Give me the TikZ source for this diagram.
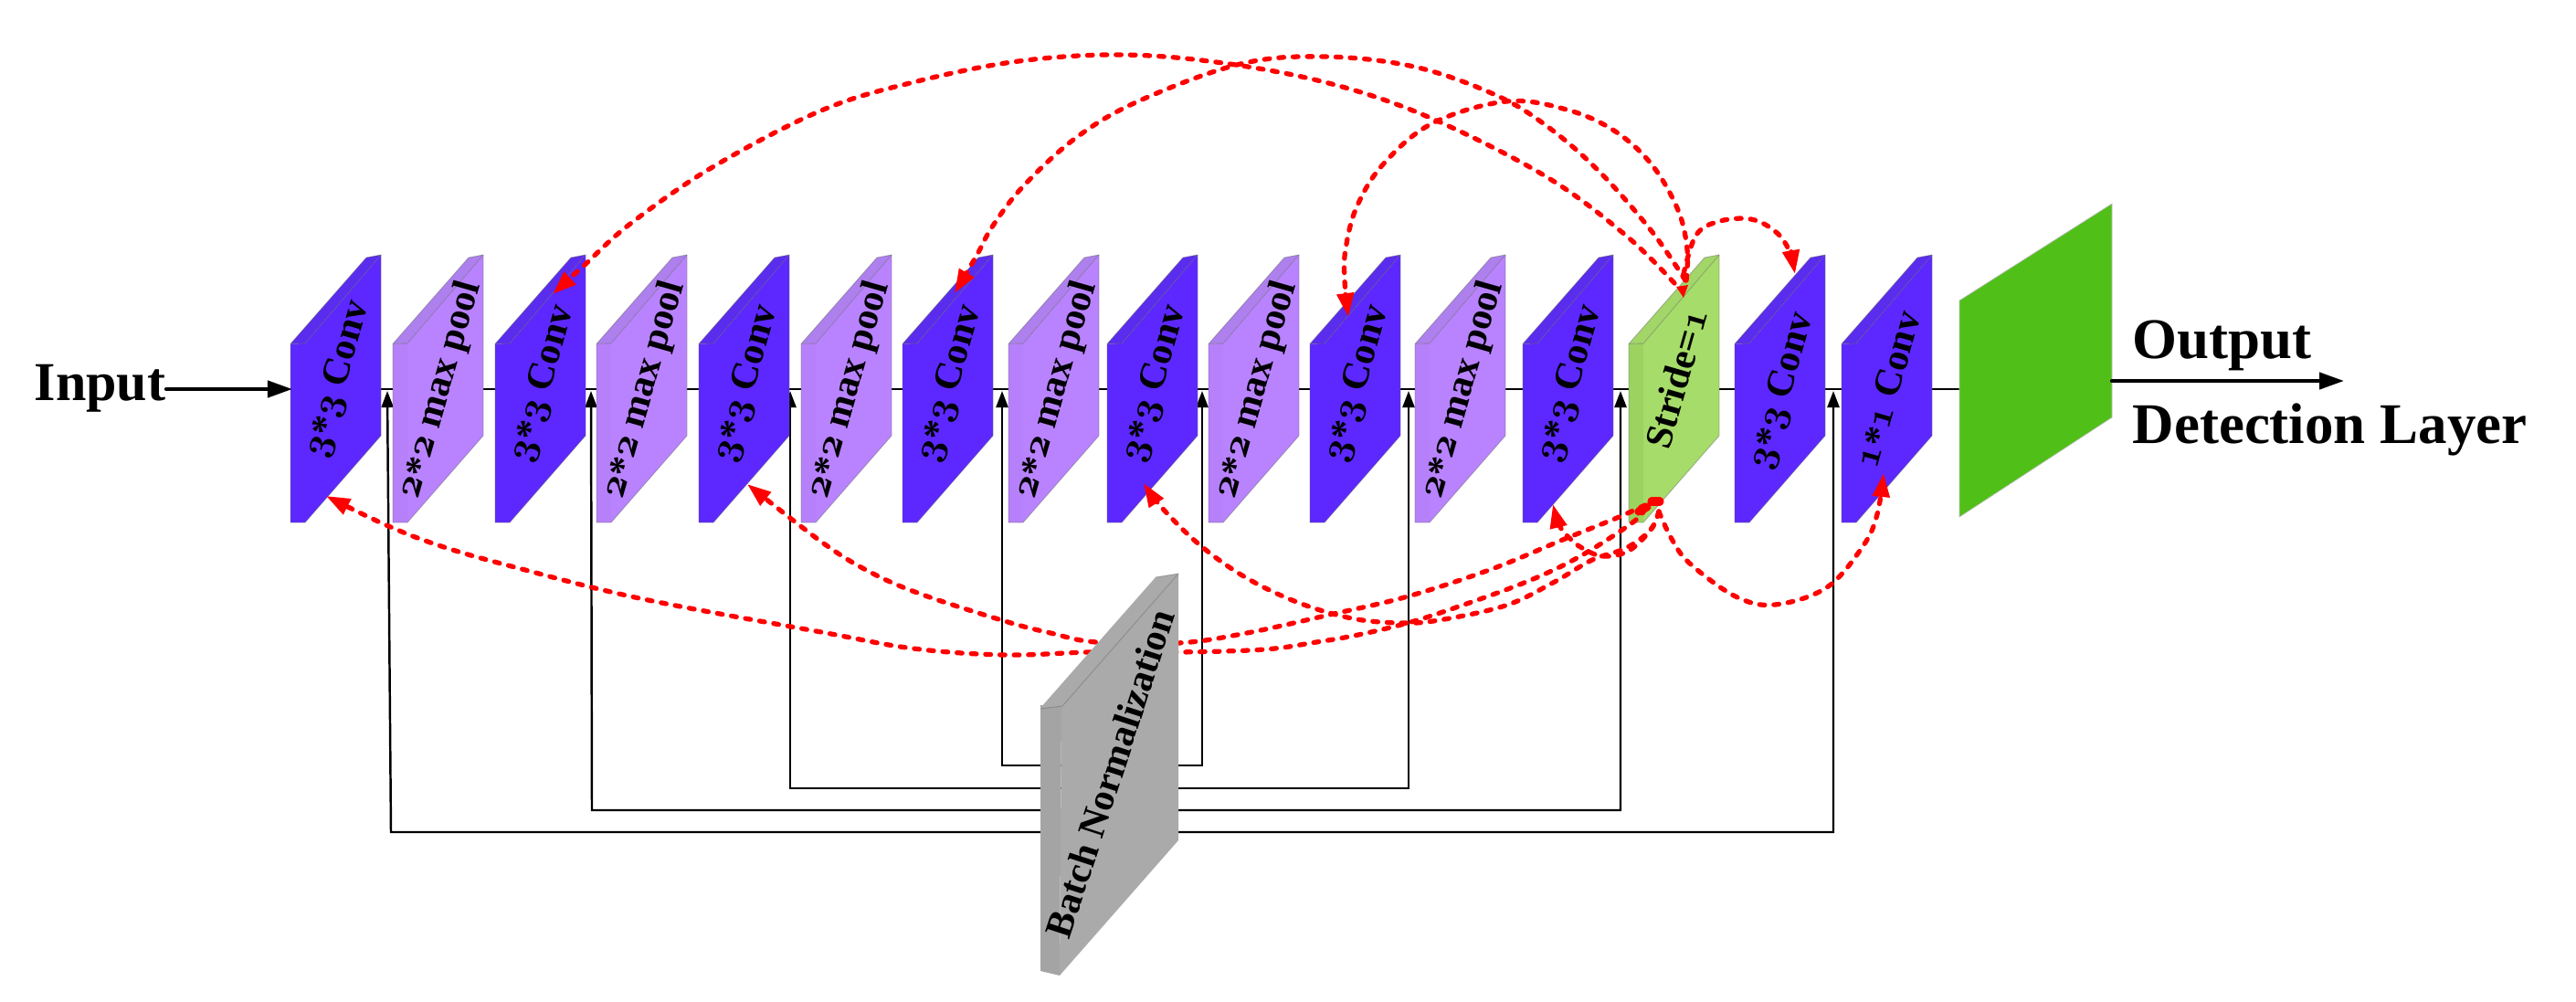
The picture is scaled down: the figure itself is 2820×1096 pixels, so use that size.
\documentclass[tikz,border=0pt]{standalone}
\usepackage{fontspec}
\setmainfont{Liberation Serif}
\usetikzlibrary{arrows.meta}
\definecolor{conv}{HTML}{5C28FF}
\definecolor{convtop}{HTML}{5A2CEE}
\definecolor{pool}{HTML}{B983FF}
\definecolor{poolside}{HTML}{B680FB}
\definecolor{pooltop}{HTML}{AE80EE}
\definecolor{strd}{HTML}{A6DC69}
\definecolor{strdside}{HTML}{9CD260}
\definecolor{strdtop}{HTML}{A2D668}
\definecolor{bnfront}{HTML}{AAAAAA}
\definecolor{bnside}{HTML}{A4A4A4}
\definecolor{outgreen}{HTML}{50C018}
\newcommand\od[1]{{\fontsize{13}{14}\usefont{OML}{cmm}{b}{it}#1}}
\newcommand\st{\raisebox{-.12em}{*}}
\newcommand\thrconv{\od{3}\st\od{3} Conv}
\newcommand\twopool{\od{2}\st\od{2} max pool}
\tikzset{
  x=.01cm,y=-.01cm,
  blocktext/.style={font=\fontsize{11.95}{14}\selectfont\bfseries,rotate=74,inner sep=0pt},
  biglabel/.style={font=\fontsize{17.9}{20}\selectfont\bfseries,anchor=base west,inner sep=0pt},
  thinblack/.style={draw=black,line width=.7pt},
  iolink/.style={draw=black,line width=1.2pt,line cap=round,-{Triangle[length=.27cm,width=.18cm]}},
  redlink/.style={draw=red,line width=1.5pt,line cap=round,dash pattern=on 1.6pt off 2.85pt,-{Triangle[length=.26cm,width=.18cm]}},
  edgeline/.style={draw=black!60,draw opacity=.45,line width=.25pt},
  blob/.style={draw=red,line width=2.6pt,line cap=round},
}
% name, x, front, side, top, text centre y, text
\newcommand\lay[7]{%
  \begin{scope}[shift={(#2,0)}]
    \path[fill=#3] (16,376) -- (99,279) -- (99,477) -- (16,572) -- cycle;
    \path[fill=#4] (0,376.5) -- (16,376) -- (16,572) -- (0,572) -- cycle;
    \path[fill=#5] (0,376.5) -- (83,282) -- (99,279) -- (16,376) -- cycle;
    \path[edgeline] (0,376.5) -- (83,282) -- (99,279) -- (99,477) -- (16,572) -- (0,572) -- cycle;
    \path[edgeline] (0,376.5) -- (16,376) -- (99,279);
    \node[blocktext] (#1) at (52,#6) {#7};
  \end{scope}}
\begin{document}
\begin{tikzpicture}
\useasboundingbox (0,0) rectangle (2820,1096);
\coordinate (inS) at (182,426);
\coordinate (inT) at (320,426);
\coordinate (mainS) at (320,426);
\coordinate (mainT) at (2146,426);
\draw[thinblack] (mainS) -- (mainT);
% skip connections
\coordinate (a1) at (424,428); \coordinate (a2) at (2007,428); \coordinate (busa) at (428,911);
\coordinate (b1) at (647,428); \coordinate (b2) at (1774,428); \coordinate (busb) at (648,887);
\coordinate (c1) at (865,428); \coordinate (c2) at (1542,428); \coordinate (busc) at (865,863);
\coordinate (d1) at (1097,428); \coordinate (d2) at (1316,428); \coordinate (busd) at (1097,838);
\foreach \p/\q/\r in {a1/a2/busa,b1/b2/busb,c1/c2/busc,d1/d2/busd}{
  \draw[thinblack,{Triangle[length=.18cm,width=.13cm]}-{Triangle[length=.18cm,width=.13cm]}]
    (\p) -- (\r) -- (\q |- \r) -- (\q);
}
\lay{l1}{318}{conv}{conv}{convtop}{415}{\thrconv}
\lay{l2}{430}{pool}{poolside}{pooltop}{427}{\twopool}
\lay{l3}{542}{conv}{conv}{convtop}{420}{\thrconv}
\lay{l4}{653}{pool}{poolside}{pooltop}{427}{\twopool}
\lay{l5}{765}{conv}{conv}{convtop}{420}{\thrconv}
\lay{l6}{877}{pool}{poolside}{pooltop}{427}{\twopool}
\lay{l7}{988}{conv}{conv}{convtop}{420}{\thrconv}
\lay{l8}{1104}{pool}{poolside}{pooltop}{427}{\twopool}
\lay{l9}{1212}{conv}{conv}{convtop}{420}{\thrconv}
\lay{l10}{1323}{pool}{poolside}{pooltop}{427}{\twopool}
\lay{l11}{1434}{conv}{conv}{convtop}{420}{\thrconv}
\lay{l12}{1549}{pool}{poolside}{pooltop}{427}{\twopool}
\lay{l13}{1667}{conv}{conv}{convtop}{420}{\thrconv}
\lay{l14}{1783}{strd}{strdside}{strdtop}{414}{Stride=\od{1}}
\lay{l15}{1899}{conv}{conv}{convtop}{428}{\thrconv}
\lay{l16}{2016}{conv}{conv}{convtop}{427}{\od{1}\st\od{1} Conv}
% output layer
\path[fill=outgreen,draw=black!25,line width=.2pt] (2145,329) -- (2312,223) -- (2312,457) -- (2145,566) -- cycle;
\coordinate (outS) at (2312,417);
\coordinate (outT) at (2566,417);
\draw[iolink] (inS) -- (inT);
\draw[iolink] (outS) -- (outT);
\node[biglabel,font=\fontsize{17.07}{20}\selectfont\bfseries] (inlabel) at (37,438) {Input};
\node[biglabel] (outlabel) at (2334,392) {Output};
\node[biglabel] (detlabel) at (2334,485) {Detection Layer};
% red curves, upper
\coordinate (topA) at (1833,310);
\coordinate (topB) at (1845,307);
\coordinate (topC) at (1846,307);
\coordinate (topD) at (1843,300);
\coordinate (tipA) at (605,322);
\coordinate (tipB) at (1045,321);
\coordinate (tipC) at (1476,347);
\coordinate (tipD) at (1965,300);
\draw[redlink] plot[smooth,tension=.6] coordinates {(topA) (1779,257) (1692,193) (1568,130) (1462,93) (1346,70) (1231,60) (1115,67) (1000,90) (899,121) (780,183) (690,245) (640,290) (tipA)};
\draw[redlink] plot[smooth,tension=.6] coordinates {(topB) (1808,253) (1750,187) (1692,137) (1635,103) (1548,73) (1450,62) (1358,70) (1248,110) (1179,150) (1121,203) (1087,247) (1069,280) (tipB)};
\draw[redlink] plot[smooth,tension=.6] coordinates {(topC) (1847,273) (1837,230) (1808,180) (1767,143) (1715,120) (1649,111) (1568,135) (1514,180) (1485,227) (1473,273) (1472,307) (tipC)};
\draw[redlink] plot[smooth,tension=.6] coordinates {(topD) (1857,257) (1883,242) (1917,240) (1943,253) (1958,273) (tipD)};
\path[fill=red] (1835,314) -- (1848,312) -- (1843,326) -- cycle;
% red curves, lower
\coordinate (botE) at (1801,553);
\coordinate (botF) at (1801,557);
\coordinate (botG) at (1816,560);
\coordinate (tipE) at (818,530);
\coordinate (tipF) at (357,543);
\coordinate (tipG) at (1252,529);
\coordinate (tipH) at (1700,552);
\coordinate (tipI) at (2062,518);
\draw[redlink] plot[smooth,tension=.6] coordinates {(botE) (1770,567) (1713,590) (1633,623) (1541,653) (1460,672) (1365,693) (1290,704) (1200,703) (1150,693) (1100,680) (1007,650) (950,625) (899,593) (tipE)};
\draw[redlink] plot[smooth,tension=.6] coordinates {(botF) (1786,573) (1728,610) (1671,637) (1594,665) (1541,682) (1487,695) (1441,703) (1384,711) (1290,714) (1193,714) (1100,717) (1000,710) (899,692) (700,655) (560,620) (483,598) (423,575) (tipF)};
\draw[redlink] plot[smooth,tension=.6] coordinates {(botG) (1807,580) (1780,600) (1743,613) (1700,638) (1648,663) (1575,679) (1533,682) (1480,677) (1422,660) (1365,633) (1315,598) (1273,557) (tipG)};
\draw[redlink] plot[smooth,tension=.6] coordinates {(botG) (1807,580) (1783,603) (1755,609) (1732,600) (1717,588) (1707,575) (tipH)};
\draw[redlink] plot[smooth,tension=.6] coordinates {(botG) (1830,590) (1850,617) (1900,653) (1943,662) (2000,643) (2040,597) (2055,563) (tipI)};
\draw[blob] (1794,560) -- (1803,555);
\draw[blob] (1808,549) -- (1817,549);
% batch normalisation
\path[fill=bnfront] (1162,773) -- (1290,628) -- (1290,920) -- (1160,1068) -- cycle;
\path[fill=bnside] (1139,772) -- (1162,773) -- (1160,1068) -- (1139,1063) -- cycle;
\path[fill=bnfront] (1139,775) -- (1265,632) -- (1290,628) -- (1163,773) -- cycle;
\path[edgeline] (1139,776) -- (1163,773) -- (1290,628);
\path[edgeline] (1265,632) -- (1290,628);
\node[blocktext,rotate=-2] (bn) at (1215,847) {Batch Normalization};
\end{tikzpicture}
\end{document}
